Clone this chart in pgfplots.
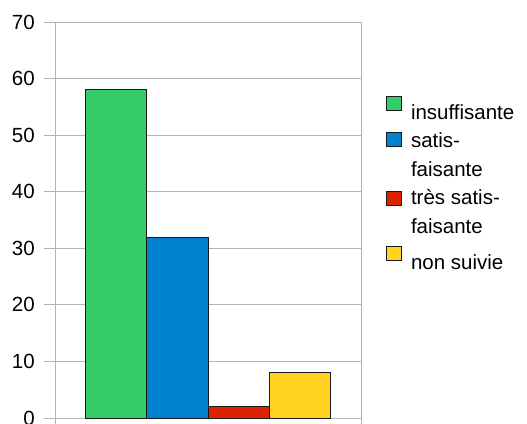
\documentclass[border=0pt]{standalone}
\usepackage{fontspec}
\setmainfont{Liberation Sans}
\usepackage{pgfplots}
\pgfplotsset{compat=1.18}
\definecolor{cgreen}{RGB}{52,204,104}
\definecolor{cblue}{RGB}{0,130,208}
\definecolor{cred}{RGB}{220,35,0}
\definecolor{cyellow}{RGB}{255,211,32}
\definecolor{cgrid}{RGB}{179,179,179}
\definecolor{cline}{RGB}{25,25,25}
\pgfplotsset{
  sqlow/.style={legend image code/.code={\draw[##1, draw=cline, line width=0.8pt] (0pt,3pt) rectangle (15pt,17pt);}},
  sqA/.style={legend image code/.code={\draw[##1, draw=cline, line width=0.8pt] (0pt,10pt) rectangle (15pt,24pt);}},
  sqB/.style={legend image code/.code={\draw[##1, draw=cline, line width=0.8pt] (0pt,8pt) rectangle (15pt,22pt);}},
}
\begin{document}
\fontsize{20.5}{29}\selectfont
\begin{tikzpicture}
\begin{axis}[
  at={(0,0)}, anchor=south west,
  scale only axis, width=306pt, height=396pt,
  xmin=0, xmax=5, ymin=0, ymax=70,
  ytick={0,10,...,70},
  xtick={0,5}, xticklabels={},
  ytick pos=left, xtick pos=bottom,
  ymajorgrids,
  grid style={cgrid, line width=0.9pt},
  axis line style={cgrid, line width=0.9pt},
  tick style={cgrid, line width=0.9pt},
  major tick length=11pt,
  tick align=outside,
  yticklabel style={font=\fontsize{20.5}{24}\selectfont, inner sep=0pt, xshift=-9pt},
  /pgf/number format/assume math mode=true,
  ybar, bar shift=0pt, bar width=1,
  sqlow,
  legend cell align=left,
  legend style={draw=none, fill=none, at={(1,1)}, anchor=north west,
    xshift=25pt, yshift=-74pt, inner sep=0pt, row sep=9.5pt,
    nodes={inner sep=0pt, align=left, font=\fontsize{20.5}{29}\selectfont},
    /tikz/column 2/.style={column sep=0pt},
    /tikz/every odd column/.append style={column sep=9pt}},
]
\addplot[fill=cgreen, draw=cline, line width=0.8pt] coordinates {(1,58)};
\addlegendentry{insuffisante}
\addplot[fill=cblue, draw=cline, line width=0.8pt, sqA] coordinates {(2,32)};
\addlegendentry{satis-\\faisante}
\addplot[fill=cred, draw=cline, line width=0.8pt, sqB] coordinates {(3,2)};
\addlegendentry{très satis-\\faisante}
\addplot[fill=cyellow, draw=cline, line width=0.8pt] coordinates {(4,8)};
\addlegendentry{non suivie}
\end{axis}
\pgfresetboundingbox
\path[use as bounding box] (-55pt,-5pt) rectangle (472pt,418pt);
\end{tikzpicture}
\end{document}
